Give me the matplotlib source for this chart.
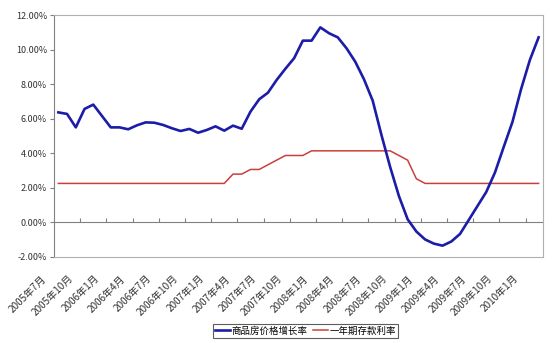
import numpy as np
import matplotlib
matplotlib.use("Agg")
import matplotlib.pyplot as plt
import matplotlib.transforms as mtransforms
from matplotlib.ticker import FuncFormatter

plt.rcParams['font.family'] = ['Noto Sans CJK SC', 'DejaVu Sans']

# monthly series, 2005-07 .. 2010-02
price_growth = [6.37, 6.28, 5.50, 6.57, 6.82, 6.16, 5.50, 5.50, 5.39, 5.62,
                5.79, 5.77, 5.64, 5.45, 5.29, 5.41, 5.19, 5.35, 5.56, 5.31,
                5.60, 5.42, 6.41, 7.13, 7.51, 8.25, 8.90, 9.51, 10.53, 10.53,
                11.30, 10.96, 10.72, 10.09, 9.31, 8.29, 7.05, 5.06, 3.20, 1.52,
                0.17, -0.54, -1.00, -1.24, -1.36, -1.12, -0.68, 0.13, 0.94, 1.75,
                2.88, 4.36, 5.81, 7.73, 9.41, 10.72]
deposit_rate = [2.25] * 20 + [2.79, 2.79, 3.06, 3.06, 3.33, 3.60, 3.87, 3.87, 3.87] \
    + [4.14] * 10 + [3.87, 3.60, 2.52] + [2.25] * 14

tick_labels = ['2005年7月', '2005年10月', '2006年1月', '2006年4月', '2006年7月',
               '2006年10月', '2007年1月', '2007年4月', '2007年7月', '2007年10月',
               '2008年1月', '2008年4月', '2008年7月', '2008年10月', '2009年1月',
               '2009年4月', '2009年7月', '2009年10月', '2010年1月']
y_ticks = [-2, 0, 2, 4, 6, 8, 10, 12]

label_names = ['商品房价格增长率', '一年期存款利率']

fig = plt.figure(figsize=(5.6, 3.43), dpi=100)
ax = fig.add_axes([0.0964, 0.2516, 0.8732, 0.7038])

x = np.arange(len(price_growth))
ax.plot(x, price_growth, color='#1C1CA8', lw=1.9, label=label_names[0], zorder=3)
ax.plot(x, deposit_rate, color='#C8403C', lw=1.1, label=label_names[1], zorder=2)

ax.set_xlim(-0.5, len(x) - 0.5)
ax.set_ylim(-2, 12)
ax.set_yticks(y_ticks)
ax.yaxis.set_major_formatter(FuncFormatter(lambda v, p: f"{v:.2f}%"))
ax.tick_params(axis='y', direction='out', length=3, width=0.8, color='#808080',
               labelsize=6.5, labelcolor='#333333', pad=2)

lbl_pos = np.arange(0, len(x), 3)[:len(tick_labels)]
ax.set_xticks(lbl_pos)
ax.set_xticklabels(tick_labels, rotation=45, ha='right', va='top')
ax.tick_params(axis='x', length=0, labelsize=7.2, labelcolor='#333333', pad=12)
offset = mtransforms.ScaledTranslation(-10 / 100, 0, fig.dpi_scale_trans)
for t in ax.get_xticklabels():
    t.set_transform(t.get_transform() + offset)

for side in ['top', 'right', 'bottom']:
    ax.spines[side].set_color('#B0B0B0')
    ax.spines[side].set_linewidth(0.8)
ax.spines['left'].set_color('#808080')
ax.spines['left'].set_linewidth(0.8)

# category axis crossing at 0
zero_ax = ax.secondary_xaxis(2 / 14)
zero_ax.set_xticks(np.arange(2.5, len(x) - 1, 3))
zero_ax.set_xticklabels([])
zero_ax.tick_params(direction='in', length=3, width=0.8, color='#808080')
zero_ax.spines['bottom'].set_color('#808080')
zero_ax.spines['bottom'].set_linewidth(0.8)

leg = fig.legend(loc='center', bbox_to_anchor=(0.5455, 0.035), ncol=2, fontsize=6.8,
                 frameon=True, fancybox=False, edgecolor='#333333', handlelength=1.6,
                 handletextpad=0.2, columnspacing=0.5, borderpad=0.2)
leg.get_frame().set_linewidth(0.8)

fig.savefig('out.png', dpi=100)
